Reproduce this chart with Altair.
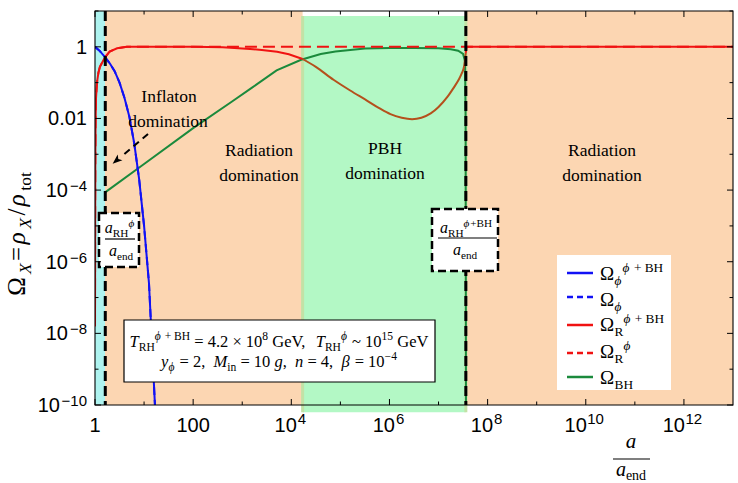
import altair as alt
import numpy as np
import pandas as pd

# ---------------- values (log10 of a/a_end and of Omega) ----------------
blue_log_a = [0, 0.1, 0.2, 0.3, 0.4, 0.5, 0.6, 0.7, 0.8, 0.9, 1.0, 1.1, 1.2, 1.25]
blue_log_omega = [0, -0.12, -0.28, -0.46, -0.68, -1.0, -1.42, -1.95, -2.7, -3.7, -5.0, -6.6, -9.4, -10.8]

phi_only_log_a = [0, 0.1, 0.2, 0.3, 0.4, 0.5, 0.6, 0.7, 0.8, 0.9, 1.0, 1.1, 1.2, 1.25]
phi_only_log_omega = [0, -0.12, -0.28, -0.46, -0.68, -1.0, -1.42, -1.95, -2.7, -3.7, -5.0, -6.6, -9.4, -10.8]

red_log_a = [0, 0.003, 0.007, 0.012, 0.02, 0.04, 0.07, 0.1, 0.2, 0.3, 0.45, 0.65, 2.0, 2.3, 2.6,
             3.16, 3.4, 3.71, 3.95, 4.23, 4.5, 4.86, 5.2, 5.54, 5.8, 6.02, 6.25, 6.46, 6.65, 6.84, 7.0,
             7.18, 7.3, 7.41, 7.47, 7.52, 7.555, 7.57, 13]
red_log_omega = [-7.8, -5.0, -3.2, -2.1, -1.45, -1.0, -0.72, -0.56, -0.3, -0.13, -0.04, 0, 0, -0.003, -0.01,
                 -0.06, -0.09, -0.14, -0.21, -0.34, -0.56, -0.92, -1.22, -1.5, -1.72, -1.88, -1.98, -2.02,
                 -1.98, -1.86, -1.68, -1.4, -1.16, -0.92, -0.75, -0.55, -0.17, 0, 0]

rad_phi_log_a = [0, 0.003, 0.007, 0.012, 0.02, 0.04, 0.07, 0.1, 0.2, 0.3, 0.45, 0.65, 13]
rad_phi_log_omega = [-7.8, -5.0, -3.2, -2.1, -1.45, -1.0, -0.72, -0.56, -0.3, -0.13, -0.04, 0, 0]

bh_log_a = [0.22, 1.0, 2.0, 2.8, 3.2, 3.7, 4.2, 4.6, 4.9, 5.5, 6.0, 6.5, 7.0, 7.25, 7.4, 7.5, 7.54, 7.552, 7.56]
bh_log_omega = [-4.05, -3.27, -2.27, -1.52, -1.14, -0.66, -0.36, -0.2, -0.13, -0.05, -0.035, -0.03,
                -0.04, -0.07, -0.11, -0.2, -0.4, -2.0, -11]

# epochs (a/a_end)
epoch_start = [1, 1.6, 1.7e4, 3.6e7]
epoch_end = [1.6, 1.7e4, 3.6e7, 1e13]
epoch_name = ["reheating", "radiation", "pbh", "radiation"]
reheating_marks = [1.62, 3.6e7]

x_major = [1, 1e2, 1e4, 1e6, 1e8, 1e10, 1e12]
x_minor = [1e1, 1e3, 1e5, 1e7, 1e9, 1e11]
y_major = [1, 1e-2, 1e-4, 1e-6, 1e-8, 1e-10]
y_minor = [1e1, 1e-1, 1e-3, 1e-5, 1e-7, 1e-9]

# ---------------- styling ----------------
W, H = 638, 394
XS = alt.Scale(type="log", domain=[1, 1e13], nice=False)
YS = alt.Scale(type="log", domain=[1e-10, 1e1], nice=False)
C_CYAN, C_ORANGE, C_GREEN = "#aef3ef", "#fcd6b2", "#b3f8c5"
C_BLUE, C_RED, C_BROWN, C_GRN = "#1212f5", "#f01212", "#b5501c", "#1b8a3c"
SERIF, SANS = "Liberation Serif", "Liberation Sans"
EPOCH_COL = {"reheating": C_CYAN, "radiation": C_ORANGE, "pbh": C_GREEN}

layers = []


def curve(la, lo, color, dash=None, width=2.0, smooth=False):
    df = pd.DataFrame({"a": 10 ** np.array(la, float), "om": 10 ** np.array(lo, float), "i": range(len(la))})
    kw = dict(color=color, strokeWidth=width, clip=True)
    if dash:
        kw["strokeDash"] = dash
    if smooth:
        kw["interpolate"] = "monotone"
    return alt.Chart(df).mark_line(**kw).encode(
        x=alt.X("a:Q", scale=XS, axis=None), y=alt.Y("om:Q", scale=YS, axis=None), order="i:Q")


# background epochs
ep = pd.DataFrame({"x1": epoch_start, "x2": epoch_end, "k": epoch_name})
ep["c"] = ep["k"].map(EPOCH_COL)
ep_main = ep[ep.k != "pbh"].assign(y1=1e-10, y2=1e1)
ep_pbh = ep[ep.k == "pbh"].assign(y1=10 ** -10.2, y2=10 ** 0.86)
layers.append(alt.Chart(ep_main).mark_rect(clip=True).encode(
    x=alt.X("x1:Q", scale=XS, axis=None), x2="x2:Q",
    y=alt.Y("y1:Q", scale=YS, axis=None), y2="y2:Q", color=alt.Color("c:N", scale=None)))
layers.append(alt.Chart(ep_pbh).mark_rect().encode(
    x=alt.X("x1:Q", scale=XS, axis=None), x2="x2:Q",
    y=alt.Y("y1:Q", scale=YS, axis=None), y2="y2:Q", color=alt.Color("c:N", scale=None)))
edges = pd.DataFrame({"a": [epoch_start[2], epoch_end[2]], "y1": 10 ** -10.2, "y2": 10 ** 0.86})
layers.append(alt.Chart(edges).mark_rule(color="#c2e2a6", strokeWidth=3).encode(
    x=alt.X("a:Q", scale=XS, axis=None), y=alt.Y("y1:Q", scale=YS, axis=None), y2="y2:Q"))

# curves
layers.append(curve(bh_log_a, bh_log_omega, C_GRN))
la = np.array(red_log_a); lo = np.array(red_log_omega)
b1, b2 = np.log10(epoch_start[2]), np.log10(epoch_end[2])
tol = 0.01
m1 = la <= b1 + tol
m2 = (la >= b1 - tol) & (la <= b2 + tol)
m3 = la >= b2 - tol
layers.append(curve(la[m1], lo[m1], C_RED))
layers.append(curve(la[m2], lo[m2], C_BROWN, smooth=True))
layers.append(curve(la[m3], lo[m3], C_RED))
layers.append(curve(rad_phi_log_a, rad_phi_log_omega, C_RED, dash=[12, 6]))
layers.append(curve(blue_log_a, blue_log_omega, C_BLUE))
layers.append(curve(phi_only_log_a, phi_only_log_omega, C_BLUE, dash=[8, 5]))

# reheating markers
layers.append(alt.Chart(pd.DataFrame({"a": reheating_marks})).mark_rule(
    color="black", strokeWidth=3, strokeDash=[10, 5]).encode(
    x=alt.X("a:Q", scale=XS, axis=None), y=alt.value(0), y2=alt.value(H)))


# ---------------- rich text helper ----------------
RW = {' ': .25, 'a': .444, 'b': .5, 'c': .444, 'd': .5, 'e': .444, 'f': .333, 'g': .5, 'h': .5, 'i': .278,
      'l': .278, 'm': .778, 'n': .5, 'o': .5, 'p': .5, 'r': .333, 's': .389, 't': .278, 'u': .5, 'v': .5,
      'B': .667, 'G': .722, 'H': .722, 'I': .333, 'M': .889, 'P': .556, 'R': .667, 'T': .611, 'V': .722,
      'X': .722, '.': .25, ',': .25, '=': .564, '+': .564, '×': .564, '~': .541, '−': .564, '/': .278,
      'Ω': .768, 'ϕ': .6, 'β': .55, 'ρ': .52}
IW = {'a': .5, 'g': .5, 'n': .5, 'y': .444, 'T': .556, 'M': .833, 'X': .611}


def tw(t, italic):
    s = 0.0
    for ch in t:
        if italic and ch in IW:
            s += IW[ch]
        elif ch in RW:
            s += RW[ch]
        else:
            s += 0.5
    return s


def rich(runs, cx, by, size, align="center", angle=0, gap=0.0, sub=0.25, sup=0.4, scale=0.7):
    items = []
    for t, kind, it in runs:
        fs = size if kind == "n" else size * scale
        items.append((t, kind, it, fs, tw(t, it) * fs))
    total = sum(i[4] for i in items) + gap * (len(items) - 1)
    pos = -total / 2 if align == "center" else 0.0
    rows = []
    for t, kind, it, fs, w in items:
        shift = 0 if kind == "n" else (sub * size if kind == "sub" else -sup * size)
        lead = (len(t) - len(t.lstrip(" "))) * 0.25 * fs
        txt = t.strip(" ")
        if angle == 0:
            rows.append(dict(x=cx + pos + lead, y=by + shift, text=txt, size=fs, italic=it, angle=0))
        else:
            rows.append(dict(x=cx + shift, y=by - pos - lead, text=txt, size=fs, italic=it, angle=270))
        pos += w + gap
    return rows


def P(px):
    return px - 95


def Q(py):
    return py - 11


rows = []
# epoch labels
for txt, px, py in [("Inflaton", 169, 102), ("domination", 168, 127),
                    ("Radiation", 259, 156), ("domination", 259, 181),
                    ("PBH", 385, 154), ("domination", 385, 179),
                    ("Radiation", 602, 156), ("domination", 602, 181)]:
    rows += rich([(txt, "n", False)], P(px), Q(py), 17.5)

# fraction boxes
rows += rich([("a", "n", True), ("RH", "sub", False), ("ϕ", "sup", True)], P(120), Q(233), 16)
rows += rich([("a", "n", True), ("end", "sub", False)], P(121), Q(256), 16)
rows += rich([("a", "n", True), ("RH", "sub", False), ("ϕ", "sup", True), ("+BH", "sup", False)], P(466), Q(233), 16)
rows += rich([("a", "n", True), ("end", "sub", False)], P(465), Q(255), 16)

# parameter box
rows += rich([("T", "n", True), ("RH", "sub", False), ("ϕ", "sup", True), (" + BH", "sup", False),
              (" = 4.2 × 10", "n", False), ("8", "sup", False), (" GeV,", "n", False),
              ("  T", "n", True), ("RH", "sub", False), ("ϕ", "sup", True), (" ~ 10", "n", False),
              ("15", "sup", False), (" GeV", "n", False)], P(279), Q(347), 16.5)
rows += rich([("y", "n", True), ("ϕ", "sub", True), (" = 2,", "n", False), ("  M", "n", True),
              ("in", "sub", False), (" = 10", "n", False), (" g", "n", True), (",", "n", False),
              ("  n", "n", True), (" = 4,", "n", False), ("  β", "n", True), (" = 10", "n", False),
              ("−4", "sup", False)], P(279), Q(367), 16.5)

# legend labels
LX = P(600)
leg_runs = [
    [("Ω", "n", False), ("ϕ", "sub", True), ("ϕ", "sup", True), (" + BH", "sup", False)],
    [("Ω", "n", False), ("ϕ", "sub", True)],
    [("Ω", "n", False), ("R", "sub", False), ("ϕ", "sup", True), (" + BH", "sup", False)],
    [("Ω", "n", False), ("R", "sub", False), ("ϕ", "sup", True)],
    [("Ω", "n", False), ("BH", "sub", False)],
]
leg_base = [280, 306, 331, 358, 384]
for r, b in zip(leg_runs, leg_base):
    rows += rich(r, LX, Q(b), 19, align="left")

# axis titles
rows += rich([("a", "n", True)], P(631), Q(448), 21)
rows += rich([("a", "n", True), ("end", "sub", False)], P(631), Q(476), 20, sub=0.2)
rows += rich([("Ω", "n", False), ("X", "sub", True), ("=", "n", False), ("ρ", "n", True), ("X", "sub", True),
              ("/", "n", False), ("ρ", "n", True), ("tot", "sub", False)],
             P(25), Q(234), 25, angle=270, gap=2.5)

txt_df = pd.DataFrame(rows)

# boxes (pixel layout)
boxes_dashed = pd.DataFrame({"x": [P(99), P(432)], "x2": [P(139), P(498)],
                             "y": [Q(213), Q(209)], "y2": [Q(267), Q(271)]})
box_solid = pd.DataFrame({"x": [P(124)], "x2": [P(435)], "y": [Q(320)], "y2": [Q(382)]})
legend_bg = pd.DataFrame({"x": [P(557)], "x2": [P(671)], "y": [Q(255)], "y2": [Q(390)]})


def pix_rect(df, **kw):
    return alt.Chart(df).mark_rect(**kw).encode(
        x=alt.X("x:Q", scale=None), x2="x2:Q", y=alt.Y("y:Q", scale=None), y2="y2:Q")


# arrow
arrow = pd.DataFrame({"x": [P(148)], "x2": [P(121)], "y": [Q(134)], "y2": [Q(157)]})
layers.append(alt.Chart(arrow).mark_rule(color="black", strokeWidth=2, strokeDash=[7, 5]).encode(
    x=alt.X("x:Q", scale=None), x2="x2:Q", y=alt.Y("y:Q", scale=None), y2="y2:Q"))
layers.append(alt.Chart(pd.DataFrame({"x": [P(117)], "y": [Q(160)]})).mark_point(
    shape="M0,-1L0.65,0.7L0,0.3L-0.65,0.7Z", filled=True, color="black", opacity=1, size=130, angle=230).encode(
    x=alt.X("x:Q", scale=None), y=alt.Y("y:Q", scale=None)))

layers.append(pix_rect(boxes_dashed, fill="white", stroke="black", strokeWidth=2.5, strokeDash=[8, 4]))
layers.append(pix_rect(box_solid, fill="white", stroke="black", strokeWidth=1.2))
layers.append(pix_rect(legend_bg, fill="white"))

# fraction bars
fr = pd.DataFrame({"x": [P(105), P(438), P(613)], "x2": [P(135), P(497), P(650)],
                   "y": [Q(239), Q(238), Q(459)]})
layers.append(alt.Chart(fr).mark_rule(color="black", strokeWidth=1.2).encode(
    x=alt.X("x:Q", scale=None), x2="x2:Q", y=alt.Y("y:Q", scale=None)))

# legend symbols
leg_sym_y = [Q(273), Q(297), Q(325), Q(353), Q(377)]
leg_cols = [C_BLUE, C_BLUE, C_RED, C_RED, C_GRN]
leg_dash = [False, True, False, True, False]
ls = pd.DataFrame({"y": leg_sym_y, "c": leg_cols, "d": leg_dash, "x": P(567), "x2": P(593)})
for d, dash in [(False, None), (True, [6, 4])]:
    kw = dict(strokeWidth=2.5)
    if dash:
        kw["strokeDash"] = dash
    layers.append(alt.Chart(ls[ls.d == d]).mark_rule(**kw).encode(
        x=alt.X("x:Q", scale=None), x2="x2:Q", y=alt.Y("y:Q", scale=None), color=alt.Color("c:N", scale=None)))

# text layers
for it in (False, True):
    sub = txt_df[txt_df.italic == it]
    kw = dict(font=SERIF, align="left", baseline="alphabetic", color="black")
    if it:
        kw["fontStyle"] = "italic"
    layers.append(alt.Chart(sub).mark_text(**kw).encode(
        x=alt.X("x:Q", scale=None), y=alt.Y("y:Q", scale=None), text="text:N",
        size=alt.Size("size:Q", scale=None), angle=alt.Angle("angle:Q", scale=None)))

# frame
layers.append(alt.Chart(pd.DataFrame({"x": [0], "x2": [W], "y": [0], "y2": [H]})).mark_rect(
    filled=False, stroke="black", strokeWidth=1.1).encode(
    x=alt.X("x:Q", scale=None), x2="x2:Q", y=alt.Y("y:Q", scale=None), y2="y2:Q"))

# ticks
for vals, ln in [(x_major, 6), (x_minor, 3.5)]:
    d = pd.DataFrame({"a": vals})
    layers.append(alt.Chart(d).mark_rule(color="black", strokeWidth=1).encode(
        x=alt.X("a:Q", scale=XS, axis=None), y=alt.value(H), y2=alt.value(H - ln)))
    layers.append(alt.Chart(d).mark_rule(color="black", strokeWidth=1).encode(
        x=alt.X("a:Q", scale=XS, axis=None), y=alt.value(0), y2=alt.value(ln)))
for vals, ln in [(y_major, 6), (y_minor, 3.5)]:
    d = pd.DataFrame({"o": vals})
    layers.append(alt.Chart(d).mark_rule(color="black", strokeWidth=1).encode(
        y=alt.Y("o:Q", scale=YS, axis=None), x=alt.value(0), x2=alt.value(ln)))
    layers.append(alt.Chart(d).mark_rule(color="black", strokeWidth=1).encode(
        y=alt.Y("o:Q", scale=YS, axis=None), x=alt.value(W), x2=alt.value(W - ln)))

# tick labels
XL = 421


def xlab(vals, texts, align, dx, y, fs):
    d = pd.DataFrame({"a": vals, "t": texts})
    return alt.Chart(d).mark_text(font=SANS, fontSize=fs, align=align, dx=dx, baseline="alphabetic",
                                  color="black").encode(
        x=alt.X("a:Q", scale=XS, axis=None), y=alt.value(y), text="t:N")


def ylab(vals, texts, dx, dy, fs):
    d = pd.DataFrame({"o": vals, "t": texts})
    return alt.Chart(d).mark_text(font=SANS, fontSize=fs, align="right", dx=dx, dy=dy, baseline="alphabetic",
                                  color="black").encode(
        y=alt.Y("o:Q", scale=YS, axis=None), x=alt.value(-8), text="t:N")


layers.append(xlab([1, 100], ["1", "100"], "center", 0, XL, 20))
layers.append(xlab([1e4, 1e6, 1e8], ["10", "10", "10"], "right", 5.5, XL, 20))
layers.append(xlab([1e4, 1e6, 1e8], ["4", "6", "8"], "left", 6.5, XL - 8, 15))
layers.append(xlab([1e10, 1e12], ["10", "10"], "right", 1, XL, 20))
layers.append(xlab([1e10, 1e12], ["10", "12"], "left", 1.5, XL - 8, 15))

layers.append(ylab([1, 1e-2], ["1", "0.01"], 0, 7, 20))
layers.append(ylab([1e-4, 1e-6, 1e-8, 1e-10], ["−4", "−6", "−8", "−10"], 0, 1, 15))
layers.append(ylab([1e-4, 1e-6, 1e-8], ["10", "10", "10"], -19, 7, 20))
layers.append(ylab([1e-10], ["10"], -27, 7, 20))

chart = alt.layer(*layers).resolve_scale(x="independent", y="independent").properties(
    width=W, height=H,
    padding={"left": 95, "top": 11, "right": 5, "bottom": 78},
    autosize=alt.AutoSizeParams(type="none"),
    background="white",
).configure_view(stroke=None)

chart.save("out.html", embed_options={"renderer": "svg", "actions": False})
